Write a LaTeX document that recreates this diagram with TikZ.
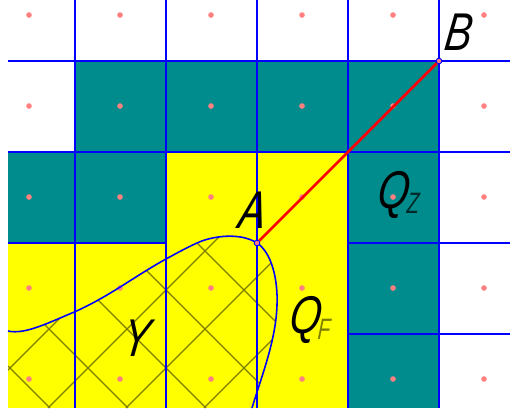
\documentclass[tikz,border=0pt]{standalone}
\usepackage{fontspec}
\setmainfont{Liberation Sans}
\usepackage{tikz}
\definecolor{cellteal}{RGB}{0,140,140}
\definecolor{cellyellow}{RGB}{255,255,0}
\definecolor{linkred}{RGB}{255,0,0}
\definecolor{lineblue}{RGB}{0,0,255}
\definecolor{dotpink}{RGB}{255,128,128}
\definecolor{hatchol}{RGB}{125,125,0}
\tikzset{
    gridline/.style={draw=lineblue, line width=1.25pt},
    hatchline/.style={draw=hatchol, line width=0.7pt},
    bigletter/.style={inner sep=0pt, xscale=0.85, yscale=1.12, xslant=0.18, transform shape, font=\fontsize{27}{30}\selectfont\itshape},
    subletter/.style={inner sep=0pt, xscale=0.72, yscale=1.05, xslant=0.1, transform shape, font=\fontsize{16}{18}\selectfont\itshape},
    endpoint/.style={circle, draw=lineblue, fill=dotpink, line width=0.5pt, inner sep=0pt, minimum size=3.2pt}
}
\newcommand{\blobedge}{(8,331) .. controls (25,335) and (50,322) .. (75,311.7) .. controls (110,296) and (135,276) .. (166,259) .. controls (177,253) and (186,248) .. (197,243) .. controls (212,236) and (240,232) .. (257,243) .. controls (272,253) and (278,280) .. (277,305) .. controls (276,340) and (262,375) .. (252,408)}
\begin{document}
\begin{tikzpicture}[x=0.02cm, y=-0.02cm]
    \useasboundingbox (0,0) rectangle (510,413);
    % cells
    \fill[cellteal] (75,61) rectangle (439,152);
    \fill[cellteal] (8,152) rectangle (166,243);
    \fill[cellteal] (348,152) rectangle (439,408);
    \fill[cellyellow] (166,152) rectangle (348,408);
    \fill[cellyellow] (8,243) rectangle (166,408);

    % hatching below the curve
    \begin{scope}
        \clip \blobedge -- (8,408) -- cycle;
        \foreach \c in {222,300,...,768}
            \draw[hatchline] (\c-8,8) -- (\c-408,408);
        \foreach \c in {-436,-358,...,116}
            \draw[hatchline] (8,8-\c) -- (408+\c,408);
    \end{scope}

    % grid
    \foreach \x in {75,166,257,348,439}
        \draw[gridline] (\x,0) -- (\x,408);
    \foreach \y in {61,152}
        \draw[gridline] (8,\y) -- (510,\y);
    \draw[gridline] (8,243) -- (166,243);
    \draw[gridline] (348,243) -- (510,243);
    \draw[gridline] (348,334) -- (510,334);

    % cell centres
    \foreach \x in {29,120,211,302,393,484}
        \foreach \y in {15,106,197,288,379}
            \fill[dotpink] (\x,\y) circle (1.6pt);

    % curve
    \draw[lineblue, line width=0.9pt] \blobedge;

    % segment
    \node[endpoint] (ptA) at (257,243) {};
    \node[endpoint] (ptB) at (439,61) {};
    \draw[linkred, line width=1.5pt] (ptA) -- (ptB);

    \node[bigletter] (labA) at (253,210) {A};
    \node[bigletter] (labB) at (459,32) {B};
    \node[bigletter] (labY) at (137,338) {Y};
    \node[bigletter] (labQz) at (394,195) {Q};
    \node[subletter, text=black!70!cellteal, anchor=south west] (labZ) at (406,214) {Z};
    \node[bigletter] (labQf) at (306,320) {Q};
    \node[subletter, text=hatchol, anchor=south west] (labF) at (317,340) {F};
\end{tikzpicture}
\end{document}
